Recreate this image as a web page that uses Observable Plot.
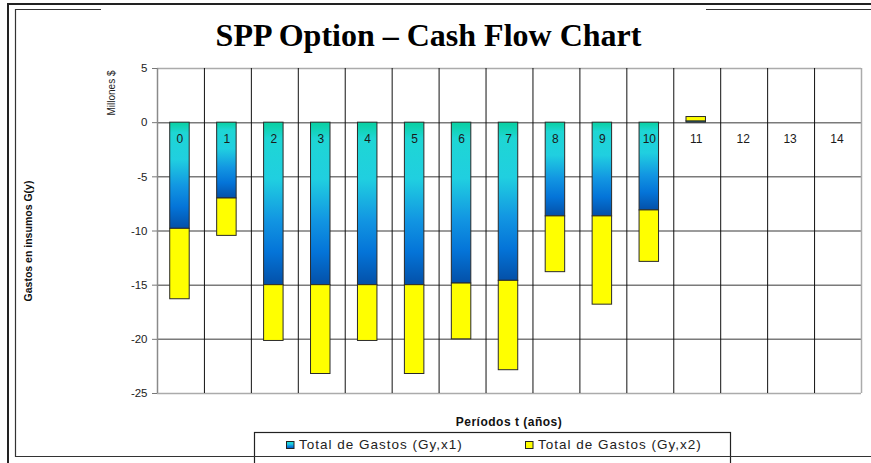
<!DOCTYPE html>
<html><head><meta charset="utf-8">
<script src="https://cdn.jsdelivr.net/npm/d3@7"></script>
<script src="https://cdn.jsdelivr.net/npm/@observablehq/plot@0.6"></script>
<style>body{margin:0;background:#fff;}</style>
</head><body><div id="chart"></div>
<script>
const periods = [0,1,2,3,4,5,6,7,8,9,10,11,12,13,14];
const gastosX1 = [-9.8,-7.0,-15.0,-15.0,-15.0,-15.0,-14.85,-14.6,-8.65,-8.65,-8.1,0.12,0,0,0];
const gastosX2 = [-6.5,-3.45,-5.15,-8.2,-5.15,-8.2,-5.15,-8.25,-5.15,-8.15,-4.75,0.4,0,0,0];
const seriesNames = ["Total de Gastos (Gy,x1)", "Total de Gastos (Gy,x2)"];
const yTicks = [5,0,-5,-10,-15,-20,-25];
const gridTicks = [0,-5,-10,-15,-20];
const frameTicks = [5,-25];
const titleText = "SPP Option \u2013 Cash Flow Chart";
const unitLabel = "Millones $";
const yLabel = "Gastos en insumos G(y)";
const xLabel = "Períodos t (años)";

const rows = [];
periods.forEach((p, i) => {
  rows.push({period: p, series: seriesNames[0], value: gastosX1[i]});
  rows.push({period: p, series: seriesNames[1], value: gastosX2[i]});
});

const W = 871, H = 463, mL = 157, mR = 10, mT = 68, mB = 70;
const step = (W - mL - mR) / periods.length;

const chart = Plot.plot({
  width: W, height: H,
  marginLeft: mL, marginRight: mR, marginTop: mT, marginBottom: mB,
  style: {fontFamily: "'Liberation Sans', Arial, sans-serif", fontSize: "11px", color: "#222", background: "#fff"},
  x: {type: "band", domain: periods, paddingInner: 0.585, paddingOuter: 0.2925, round: false, axis: null},
  y: {domain: [-25, 5], axis: null},
  color: {domain: seriesNames, range: ["url(#blueGrad)", "#ffff00"]},
  marks: [
    Plot.ruleY(gridTicks, {stroke: "#7a7a7a", strokeWidth: 1.5}),
    Plot.ruleY(frameTicks, {stroke: "#ababab", strokeWidth: 1.5}),
    Plot.ruleX(periods.slice(1), {x: d => d, dx: -step / 2, stroke: "#111", strokeWidth: 1}),
    Plot.ruleX(periods.slice(-1), {x: d => d, dx: step / 2, stroke: "#ababab", strokeWidth: 1.5}),
    Plot.ruleX(periods.slice(0, 1), {x: d => d, dx: -step / 2, stroke: "#8a8a8a", strokeWidth: 1.5}),
    Plot.barY(rows.filter(d => d.value !== 0), {x: "period", y: "value", fill: "series", stroke: "#2a2a2a", strokeWidth: 1, dx: -1}),
    Plot.text(periods, {x: d => d, y: d => 0, dy: 16, dx: -1, text: d => String(d), fontSize: 12, fill: "#1a1a1a"}),
    Plot.axisY(yTicks, {tickFormat: d => String(d), tickSize: 5, tickPadding: 5, stroke: "#777", fontSize: 11.5, label: null})
  ]
});

const svg = d3.select(chart);
const defs = svg.insert("defs", ":first-child");
const g = defs.append("linearGradient").attr("id", "blueGrad").attr("x1", 0).attr("y1", 0).attr("x2", 0).attr("y2", 1);
[[0, "#08d0a0"], [0.1, "#1ed6d4"], [0.35, "#20cfe0"], [0.6, "#1296e2"], [0.8, "#0474d8"], [1, "#0450a8"]]
  .forEach(([o, c]) => g.append("stop").attr("offset", o).attr("stop-color", c));

// decorative frame lines
const frame = svg.append("g").attr("fill", "none");
frame.append("path").attr("d", "M8,466V4H871").attr("stroke", "#222").attr("stroke-width", 2);
frame.append("path").attr("d", "M101,9.5H15.5V456.5H871").attr("stroke", "#333").attr("stroke-width", 1.2);
frame.append("path").attr("d", "M706,9.5H871").attr("stroke", "#333").attr("stroke-width", 1.2);

// title
svg.append("text").attr("x", 428.5).attr("y", 46).attr("text-anchor", "middle")
  .attr("font-family", "'Liberation Serif', 'Times New Roman', serif").attr("font-weight", "bold")
  .attr("font-size", 32).attr("fill", "#000").text(titleText);

// unit label
svg.append("text").attr("transform", "translate(115,93) rotate(-90)").attr("text-anchor", "middle")
  .attr("font-family", "'Liberation Sans Narrow', 'Liberation Sans', Arial, sans-serif")
  .attr("font-size", 10).attr("fill", "#222").text(unitLabel);

// y title
svg.append("text").attr("transform", "translate(32,241) rotate(-90)").attr("text-anchor", "middle")
  .attr("font-weight", "bold").attr("font-size", 10.5).attr("fill", "#111").text(yLabel);

// x title
svg.append("text").attr("x", 509).attr("y", 426).attr("text-anchor", "middle")
  .attr("font-weight", "bold").attr("font-size", 12).attr("letter-spacing", 0.5).attr("fill", "#111").text(xLabel);

// legend
const lg = svg.append("g");
lg.append("rect").attr("x", 254.5).attr("y", 432.5).attr("width", 476).attr("height", 40)
  .attr("fill", "#fff").attr("stroke", "#222").attr("stroke-width", 1.2);
const legendItems = [{x: 286, fill: "url(#blueGrad)"}, {x: 525, fill: "#ffff00"}];
legendItems.forEach((it, i) => {
  lg.append("rect").attr("x", it.x + 0.5).attr("y", 441.5).attr("width", 7.5).attr("height", 7)
    .attr("fill", it.fill).attr("stroke", "#222").attr("stroke-width", 1);
  lg.append("text").attr("x", it.x + 13).attr("y", 448.5).attr("text-anchor", "start").attr("font-size", 13.5)
    .attr("letter-spacing", 1).attr("fill", "#222").text(seriesNames[i]);
});
frame.raise();

document.getElementById("chart").append(chart);
</script>
</body></html>
